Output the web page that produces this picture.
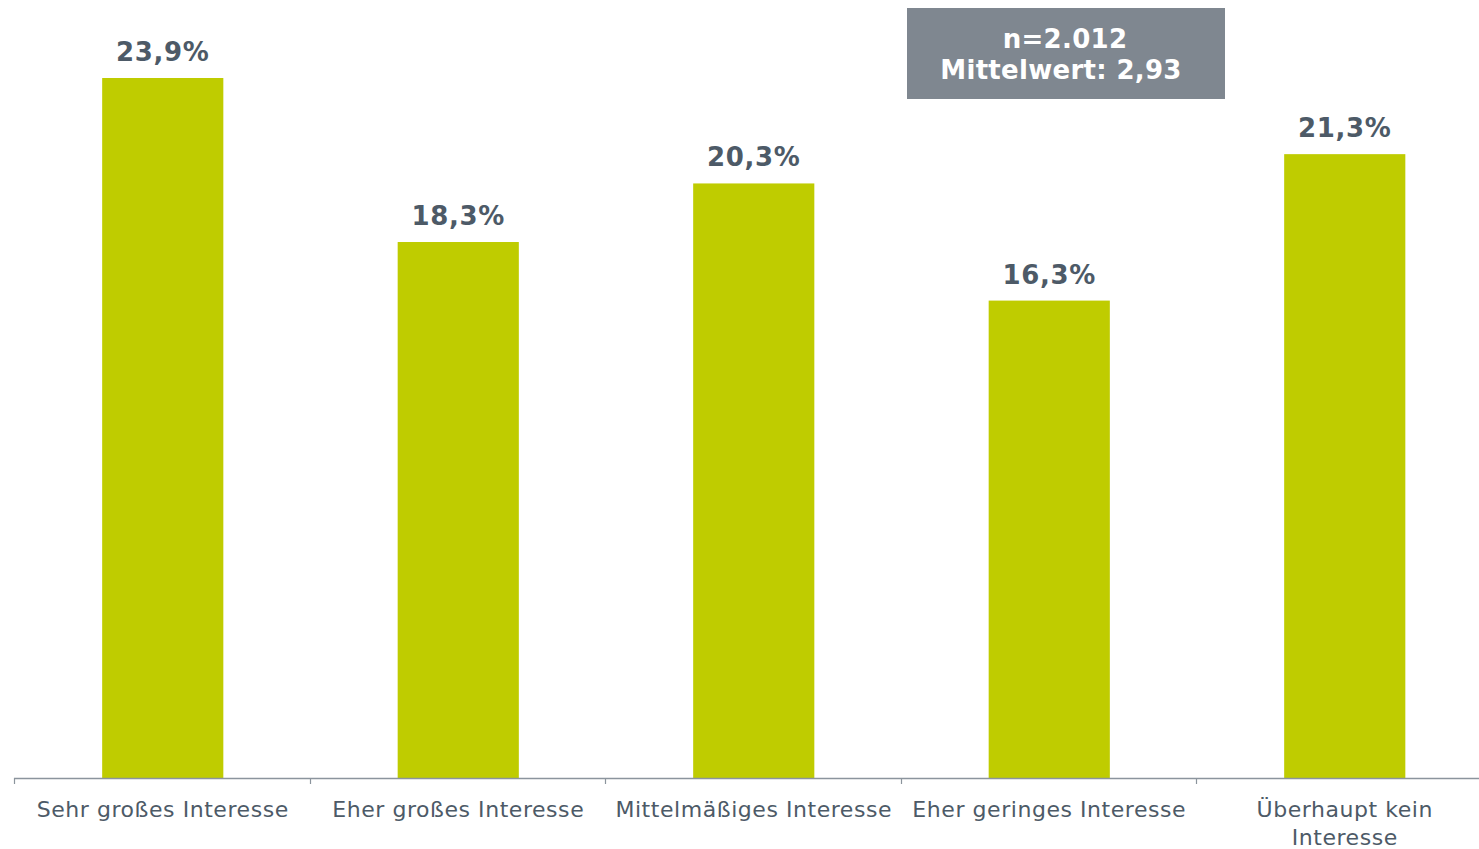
<!DOCTYPE html>
<html>
<head>
<meta charset="utf-8">
<script src="https://cdn.jsdelivr.net/npm/d3@7"></script>
<style>
  body { margin: 0; background: #fff; }
  svg { display: block; font-family: Verdana, 'DejaVu Sans', sans-serif; }
</style>
</head>
<body>
<div id="chart-container"></div>
<script>
// Chart data
const categories = [
  'Sehr großes Interesse',
  'Eher großes Interesse',
  'Mittelmäßiges Interesse',
  'Eher geringes Interesse',
  'Überhaupt kein Interesse'
];
const labelLines = [
  ['Sehr großes Interesse'],
  ['Eher großes Interesse'],
  ['Mittelmäßiges Interesse'],
  ['Eher geringes Interesse'],
  ['Überhaupt kein', 'Interesse']
];
const values = [23.9, 18.3, 20.3, 16.3, 21.3];
const infoLines = ['n=2.012', 'Mittelwert: 2,93'];

const barColor = '#bfcc00';
const textColor = '#4d5a67';
const axisColor = '#8b949d';
const boxColor = '#7f8790';

const width = 1479;
const height = 849;
const baseline = 778;

const fmt = (v) => v.toFixed(1).replace('.', ',') + '%';

const svg = d3
  .create('svg')
  .attr('width', width)
  .attr('height', height);

const x = d3
  .scaleBand()
  .domain(categories)
  .range([15, 1492.5])
  .paddingInner(0.59)
  .paddingOuter(0.295);

const y = d3
  .scaleLinear()
  .domain([0, 23.9])
  .range([baseline, 78]);

// bars
svg
  .append('g')
  .selectAll('rect')
  .data(values)
  .join('rect')
  .attr('x', (d, i) => x(categories[i]))
  .attr('y', (d) => y(d))
  .attr('width', x.bandwidth())
  .attr('height', (d) => y(0) - y(d))
  .attr('fill', barColor);

// value labels
svg
  .append('g')
  .selectAll('text')
  .data(values)
  .join('text')
  .attr('x', (d, i) => x(categories[i]) + x.bandwidth() / 2)
  .attr('y', (d) => y(d) - 17)
  .attr('text-anchor', 'middle')
  .attr('font-size', 26)
  .attr('font-weight', 'bold')
  .attr('letter-spacing', 0.7)
  .attr('fill', textColor)
  .text(fmt);

// axis line + ticks at band edges
const step = x.step();
const start = 14;
svg
  .append('line')
  .attr('x1', start)
  .attr('x2', width)
  .attr('y1', baseline + 0.5)
  .attr('y2', baseline + 0.5)
  .attr('stroke', axisColor)
  .attr('stroke-width', 1.5);

svg
  .append('g')
  .selectAll('line')
  .data(d3.range(categories.length))
  .join('line')
  .attr('x1', (i) => Math.round(start + i * step) + 0.5)
  .attr('x2', (i) => Math.round(start + i * step) + 0.5)
  .attr('y1', baseline)
  .attr('y2', baseline + 6)
  .attr('stroke', axisColor)
  .attr('stroke-width', 1.2);

// category labels
const catText = svg
  .append('g')
  .selectAll('text')
  .data(labelLines)
  .join('text')
  .attr('x', (d, i) => x(categories[i]) + x.bandwidth() / 2)
  .attr('y', 817)
  .attr('text-anchor', 'middle')
  .attr('font-size', 22)
  .attr('letter-spacing', 0.55)
  .attr('fill', textColor);

catText
  .selectAll('tspan')
  .data((d) => d)
  .join('tspan')
  .attr('x', function () {
    return this.parentNode.getAttribute('x');
  })
  .attr('dy', (d, i) => (i === 0 ? 0 : 28))
  .text((d) => d);

// info box
const box = svg.append('g');
box
  .append('rect')
  .attr('x', 907)
  .attr('y', 8)
  .attr('width', 318)
  .attr('height', 91)
  .attr('fill', boxColor);
box
  .selectAll('text')
  .data(infoLines)
  .join('text')
  .attr('x', (d, i) => (i === 0 ? 1065 : 1061))
  .attr('y', (d, i) => 48 + i * 31)
  .attr('text-anchor', 'middle')
  .attr('font-size', 26)
  .attr('font-weight', 'bold')
  .attr('letter-spacing', 0.3)
  .attr('fill', '#fff')
  .text((d) => d);

document.getElementById('chart-container').appendChild(svg.node());
</script>
</body>
</html>
